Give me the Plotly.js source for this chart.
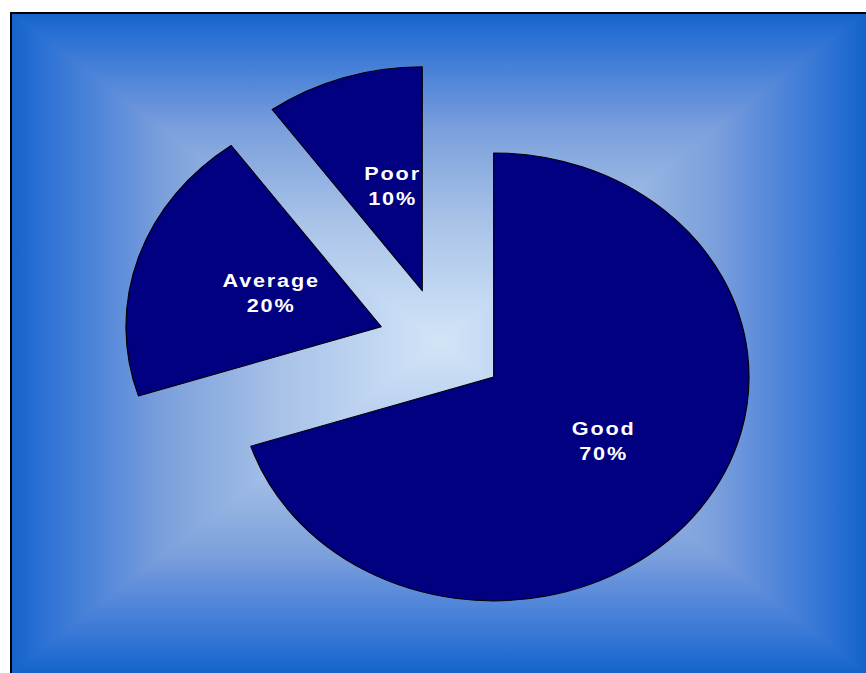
<!DOCTYPE html>
<html>
<head>
<meta charset="utf-8">
<script src="https://cdn.plot.ly/plotly-3.0.1.min.js"></script>
<style>
  html, body { margin: 0; padding: 0; background: #ffffff; }
  #wrap { position: relative; width: 866px; height: 673px; overflow: hidden; }
  #bg { position: absolute; left: 0; top: 0; }
  #chart { position: absolute; left: 0; top: 0; width: 866px; height: 673px;
           transform: scaleX(1.14); transform-origin: 442px 0; }
  #chart .annotation-text { letter-spacing: 1.6px; }
</style>
</head>
<body>
<div id="wrap">
  <svg id="bg" width="866" height="673" xmlns="http://www.w3.org/2000/svg">
    <defs>
      <linearGradient id="gt" gradientUnits="userSpaceOnUse" x1="0" y1="12" x2="0" y2="342">
        <stop offset="0" stop-color="#1363c9"/><stop offset="0.07" stop-color="#2a70d4"/>
        <stop offset="0.3" stop-color="#6c95dc"/><stop offset="0.35" stop-color="#7a9fdb"/>
        <stop offset="0.63" stop-color="#a8c2e8"/><stop offset="0.91" stop-color="#c8dcf4"/>
        <stop offset="1" stop-color="#d2e4f6"/>
      </linearGradient>
      <linearGradient id="gb" href="#gt" gradientUnits="userSpaceOnUse" x1="0" y1="673" x2="0" y2="342"/>
      <linearGradient id="gl" href="#gt" gradientUnits="userSpaceOnUse" x1="10" y1="0" x2="440" y2="0"/>
      <linearGradient id="gr" href="#gt" gradientUnits="userSpaceOnUse" x1="866" y1="0" x2="440" y2="0"/>
    </defs>
    <g shape-rendering="crispEdges">
      <polygon points="10,12 866,12 440,342" fill="url(#gt)"/>
      <polygon points="10,673 866,673 440,342" fill="url(#gb)"/>
      <polygon points="10,12 10,673 440,342" fill="url(#gl)"/>
      <polygon points="866,12 866,673 440,342" fill="url(#gr)"/>
    </g>
    <line x1="11" y1="12" x2="11" y2="673" stroke="#000" stroke-width="2"/>
    <line x1="10" y1="13" x2="866" y2="13" stroke="#000" stroke-width="2"/>
  </svg>
  <div id="chart"></div>
</div>
<script>
  var categories = ["Good", "Average", "Poor"];
  var values = [70, 20, 10];
  var pulls = [0.25, 0.25, 0.25];

  var W = 866, H = 673;
  var domX = [0.18707, 0.83372], domY = [0.0728, 0.9049];

  var trace = {
    type: "pie",
    labels: categories,
    values: values,
    pull: pulls,
    sort: false,
    direction: "clockwise",
    rotation: 0,
    textinfo: "none",
    marker: { colors: ["#000080", "#000080", "#000080"], line: { color: "#000000", width: 1 } },
    domain: { x: domX, y: domY },
    hoverinfo: "label+percent"
  };

  // Label positions derived from the pie geometry (centre, radius, pull) and values
  var total = values.reduce(function (s, v) { return s + v; }, 0);
  var boxW = (domX[1] - domX[0]) * W, boxH = (domY[1] - domY[0]) * H;
  var maxPull = Math.max.apply(null, pulls);
  var r = Math.min(boxW, boxH) / (2 + 2 * maxPull);
  var cx = (domX[0] + domX[1]) / 2 * W;
  var cy = (1 - (domY[0] + domY[1]) / 2) * H;
  var labelFrac = 0.49;
  var annotations = [];
  var cum = 0;
  for (var i = 0; i < values.length; i++) {
    var mid = (cum + values[i] / 2) / total * 2 * Math.PI;
    cum += values[i];
    var dist = (pulls[i] + labelFrac) * r;
    var px = cx + Math.sin(mid) * dist;
    var py = cy - Math.cos(mid) * dist;
    annotations.push({
      xref: "paper", yref: "paper",
      x: px / W, y: 1 - py / H,
      xanchor: "center", yanchor: "middle",
      xshift: 8,
      showarrow: false,
      text: categories[i] + "<br>" + Math.round(values[i] / total * 100) + "%",
      font: { family: "Liberation Sans, Arial, sans-serif", size: 19, color: "#ffffff", weight: "bold" }
    });
  }

  var layout = {
    width: W,
    height: H,
    margin: { l: 0, r: 0, t: 0, b: 0 },
    paper_bgcolor: "rgba(0,0,0,0)",
    plot_bgcolor: "rgba(0,0,0,0)",
    showlegend: false,
    annotations: annotations
  };

  Plotly.newPlot("chart", [trace], layout, { displayModeBar: false, staticPlot: true });
</script>
</body>
</html>
